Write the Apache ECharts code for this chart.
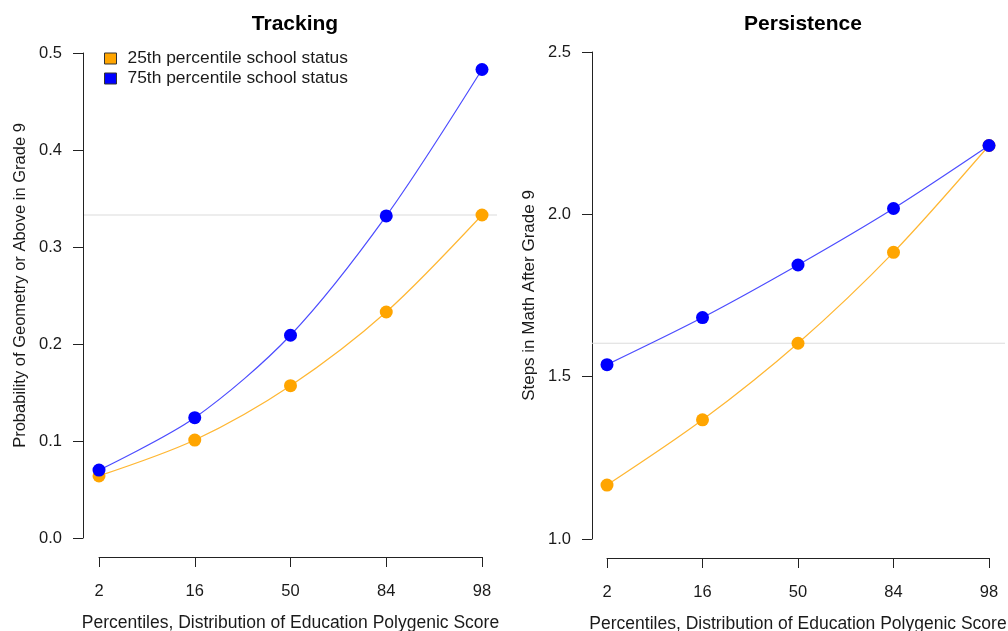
<!DOCTYPE html>
<html>
<head>
<meta charset="utf-8">
<script src="https://cdn.jsdelivr.net/npm/echarts@6/dist/echarts.min.js"></script>
<style>
html,body{margin:0;padding:0;background:#fff;}
#chart{width:1008px;height:631px;}
</style>
</head>
<body>
<div id="chart"></div>
<script>
var categories = ['2', '16', '50', '84', '98'];
var seriesNames = ['25th percentile school status', '75th percentile school status'];
var trackingLow = [0.064, 0.101, 0.157, 0.233, 0.333];
var trackingHigh = [0.070, 0.124, 0.209, 0.332, 0.483];
var persistenceLow = [1.166, 1.367, 1.603, 1.883, 2.212];
var persistenceHigh = [1.537, 1.682, 1.844, 2.018, 2.212];
var trackingRef = 0.333;
var persistenceRef = 1.603;
var trackingTicks = [0, 0.5, 0.1];
var persistenceTicks = [1.0, 2.5, 0.5];
var titles = ['Tracking', 'Persistence'];
var xTitle = 'Percentiles, Distribution of Education Polygenic Score';
var yTitles = ['Probability of Geometry or Above in Grade 9', 'Steps in Math After Grade 9'];

var FONT = 'Liberation Sans, Arial, sans-serif';
var TXT = '#1a1a1a';
var FS = 16.5;
var ORANGE = '#ffa500', BLUE = '#0000ff';
var ORANGE_LINE = '#ffb733', BLUE_LINE = '#4d4dff';

function dataYAxis(idx, ticks, yOffset, nameSize, namePad) {
  return {
    type: 'value', gridIndex: idx, min: ticks[0], max: ticks[1], interval: ticks[2],
    offset: yOffset,
    name: yTitles[idx], nameLocation: 'middle', nameGap: 54,
    nameTextStyle: {fontFamily: FONT, fontSize: nameSize, color: TXT, padding: namePad},
    axisLine: {show: true, onZero: false, lineStyle: {color: '#222', width: 1}},
    axisTick: {show: true, length: 10, lineStyle: {color: '#222'}},
    axisLabel: {fontFamily: FONT, fontSize: FS, color: TXT, margin: 21,
      formatter: function (v) { return v.toFixed(1); }},
    splitLine: {show: false}
  };
}
function dataXAxis(idx) {
  return {
    type: 'category', gridIndex: idx, data: categories, boundaryGap: false,
    offset: 19,
    name: xTitle, nameLocation: 'middle', nameGap: 57,
    nameTextStyle: {fontFamily: FONT, fontSize: 17.5, color: TXT},
    axisLine: {show: true, onZero: false, lineStyle: {color: '#222', width: 1}},
    axisTick: {show: true, length: 10, alignWithLabel: true, lineStyle: {color: '#222'}},
    axisLabel: {fontFamily: FONT, fontSize: FS, color: TXT, margin: 26}
  };
}
function hiddenX(idx) {
  return {type: 'value', gridIndex: idx, min: 0, max: 1, show: false};
}
function hiddenY(idx, ticks) {
  return {type: 'value', gridIndex: idx, min: ticks[0], max: ticks[1], show: false};
}
function pointSeries(name, data, xi, yi, color, lineColor) {
  return {
    type: 'line', name: name, data: data, xAxisIndex: xi, yAxisIndex: yi,
    smooth: 0.3, symbol: 'circle', symbolSize: 13,
    itemStyle: {color: color},
    lineStyle: {color: lineColor, width: 1.2},
    z: 3, animation: false
  };
}
function refSeries(v, xi, yi) {
  return {
    type: 'line', data: [[0, v], [1, v]], xAxisIndex: xi, yAxisIndex: yi,
    symbol: 'none', lineStyle: {color: '#dcdcdc', width: 1.2}, z: 1,
    silent: true, animation: false, legendHoverLink: false
  };
}

var chart = echarts.init(document.getElementById('chart'), null, {renderer: 'canvas'});
chart.setOption({
  backgroundColor: '#fff',
  animation: false,
  title: [
    {text: titles[0], left: 290, top: 9, textAlign: 'center',
      textStyle: {fontFamily: FONT, fontSize: 21, fontWeight: 'bold', color: '#000'}},
    {text: titles[1], left: 798, top: 9, textAlign: 'center',
      textStyle: {fontFamily: FONT, fontSize: 21, fontWeight: 'bold', color: '#000'}}
  ],
  legend: {
    data: seriesNames, orient: 'vertical', left: 99, top: 45,
    icon: 'rect', itemWidth: 12, itemHeight: 11, itemGap: 3,
    itemStyle: {borderColor: '#333', borderWidth: 1},
    textStyle: {fontFamily: FONT, fontSize: 17.4, color: TXT, padding: [0, 0, 0, 6]},
    selectedMode: false
  },
  grid: [
    {left: 99, width: 383, top: 53, height: 485, outerBoundsMode: 'none', containLabel: false},
    {left: 607, width: 382, top: 52, height: 487, outerBoundsMode: 'none', containLabel: false},
    {left: 84, width: 413, top: 53, height: 485, outerBoundsMode: 'none', containLabel: false},
    {left: 592, width: 413, top: 52, height: 487, outerBoundsMode: 'none', containLabel: false}
  ],
  xAxis: [dataXAxis(0), dataXAxis(1), hiddenX(2), hiddenX(3)],
  yAxis: [
    dataYAxis(0, trackingTicks, 16, 16.5, [0, 0, 0, 20]),
    dataYAxis(1, persistenceTicks, 15, 17, 0),
    hiddenY(2, trackingTicks), hiddenY(3, persistenceTicks)
  ],
  series: [
    refSeries(trackingRef, 2, 2),
    refSeries(persistenceRef, 3, 3),
    pointSeries(seriesNames[0], trackingLow, 0, 0, ORANGE, ORANGE_LINE),
    pointSeries(seriesNames[1], trackingHigh, 0, 0, BLUE, BLUE_LINE),
    pointSeries(seriesNames[0], persistenceLow, 1, 1, ORANGE, ORANGE_LINE),
    pointSeries(seriesNames[1], persistenceHigh, 1, 1, BLUE, BLUE_LINE)
  ]
});
</script>
</body>
</html>
